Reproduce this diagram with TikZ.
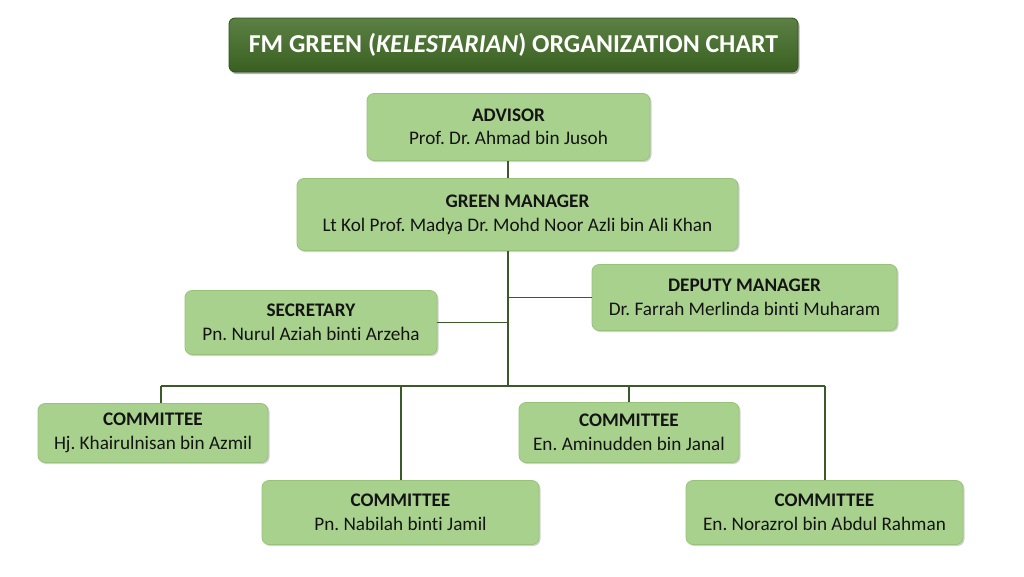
\documentclass[tikz,border=0pt]{standalone}
\usepackage{fontspec}
\setmainfont[RawFeature={-liga;-clig;-dlig;-calt;-rlig}]{Carlito}
\usetikzlibrary{shadows}
\frenchspacing
\definecolor{boxgreen}{HTML}{A9D18E}
\definecolor{boxedge}{HTML}{98C27C}
\definecolor{titlegreen}{HTML}{3F6A24}
\definecolor{titleedge}{HTML}{2F5219}
\definecolor{linegreen}{HTML}{3B5A2A}
\tikzset{
  orgbox/.style={draw=boxedge, line width=0.8pt, fill=boxgreen, rounded corners=7pt,
    align=center, inner sep=0pt, font=\fontsize{19.2}{23.5}\selectfont, text=black!92,
    drop shadow={shadow xshift=1.5pt, shadow yshift=-1.5pt, fill=black, opacity=0.18}},
  titlebox/.style={draw=titleedge, line width=0.8pt, top color=titlegreen!85!white, bottom color=titlegreen!90!black,
    rounded corners=6pt, align=center, inner sep=0pt, text=white,
    font=\fontsize{25.8}{30}\selectfont\bfseries,
    drop shadow={shadow xshift=1.5pt, shadow yshift=-2pt, fill=black, opacity=0.3}},
  conn/.style={draw=linegreen, line width=1.8pt}
}
\begin{document}
\begin{tikzpicture}[x=1pt, y=-1pt]
\useasboundingbox[fill=white] (0,0) rectangle (1024,576);
% title
\node[titlebox, minimum width=569pt, minimum height=54pt] (title) at (513.5,45) {FM GREEN (\textit{KELESTARIAN}) ORGANIZATION CHART};
% boxes
\node[orgbox, minimum width=283pt, minimum height=67pt] (adv) at (508.5,127) {\textbf{ADVISOR}\\Prof. Dr. Ahmad bin Jusoh};
\node[orgbox, minimum width=441pt, minimum height=72pt] (gm) at (517.5,214.5) {\textbf{GREEN MANAGER}\\Lt Kol Prof. Madya Dr. Mohd Noor Azli bin Ali Khan};
\node[orgbox, minimum width=305pt, minimum height=66pt] (dep) at (744.5,297.5) {\textbf{DEPUTY MANAGER}\\Dr. Farrah Merlinda binti Muharam};
\node[orgbox, minimum width=252pt, minimum height=64pt] (sec) at (311,322.5) {\textbf{SECRETARY}\\Pn. Nurul Aziah binti Arzeha};
\node[orgbox, minimum width=230pt, minimum height=59pt] (c1) at (153,433) {\textbf{COMMITTEE}\\Hj. Khairulnisan bin Azmil};
\node[orgbox, minimum width=277pt, minimum height=64pt] (c2) at (400.5,512.5) {\textbf{COMMITTEE}\\Pn. Nabilah binti Jamil};
\node[orgbox, minimum width=220pt, minimum height=60pt] (c3) at (629,432.5) {\textbf{COMMITTEE}\\En. Aminudden bin Janal};
\node[orgbox, minimum width=277pt, minimum height=64pt] (c4) at (824.5,512.5) {\textbf{COMMITTEE}\\En. Norazrol bin Abdul Rahman};
% connector points
\coordinate (bus) at (508,386);
\coordinate (busL) at (161,386);
\coordinate (busR) at (825,386);
% connectors
\draw[conn] (508,0 |- adv.south) -- (508,0 |- gm.north);
\draw[conn] (508,0 |- gm.south) -- (bus);
\draw[conn] (508,0 |- dep.west) -- (dep.west);
\draw[conn] (sec.east) -- (508,0 |- sec.east);
\draw[conn] (busL) -- (busR);
\draw[conn] (busL) -- (busL |- c1.north);
\draw[conn] (401,386) -- (401,0 |- c2.north);
\draw[conn] (629,386) -- (629,0 |- c3.north);
\draw[conn] (busR) -- (busR |- c4.north);
\end{tikzpicture}
\end{document}
